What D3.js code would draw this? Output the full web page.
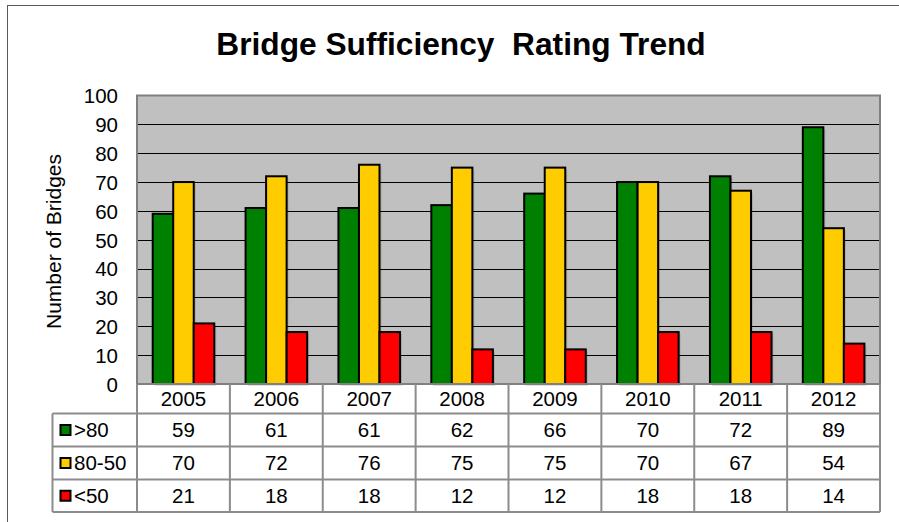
<!doctype html>
<html>
<head>
    <meta charset="utf-8">
    <title>Bridge Sufficiency Rating Trend</title>
    <script src="https://cdn.jsdelivr.net/npm/d3@7"></script>
    <style>
        body { margin: 0; background: #fff; }
        svg text { font-family: "Liberation Sans", Arial, sans-serif; fill: #000; }
    </style>
</head>
<body>
<svg id="chart" width="899" height="522"></svg>
<script>
    // data
    const years = ["2005", "2006", "2007", "2008", "2009", "2010", "2011", "2012"];
    const seriesNames = [">80", "80-50", "<50"];
    const seriesColors = ["#008000", "#FFCC00", "#FF0000"];
    const above80 = [59, 61, 61, 62, 66, 70, 72, 89];
    const mid80to50 = [70, 72, 76, 75, 75, 70, 67, 54];
    const below50 = [21, 18, 18, 12, 12, 18, 18, 14];
    const yTicks = [0, 10, 20, 30, 40, 50, 60, 70, 80, 90, 100];

    const seriesValues = [above80, mid80to50, below50];

    let svg = d3.select("#chart");

    // plot area
    const plotLeft = 137, plotRight = 880, plotTop = 95.5, plotBottom = 384;
    const rowEdges = [384, 413.5, 446.5, 479.5, 512];
    const legendLeft = 52.5;
    const fontSize = "20.5px";

    // outer chart border (right and bottom run off the picture)
    svg.append("rect")
        .attr("x", 7.5).attr("y", 5.5)
        .attr("width", 1000).attr("height", 1000)
        .attr("fill", "none")
        .attr("stroke", "#5a5a5a")
        .attr("stroke-width", 1);

    // title
    svg.append("text")
        .attr("x", 461).attr("y", 54.5)
        .attr("text-anchor", "middle")
        .style("font-size", "31.7px")
        .style("font-weight", "bold")
        .style("white-space", "pre")
        .text("Bridge Sufficiency  Rating Trend");

    let x0 = d3.scaleBand().domain(years).range([plotLeft, plotRight]).padding(0);
    let bw = x0.bandwidth();
    let x1 = d3.scaleBand().domain(d3.range(seriesNames.length))
        .range([bw * 0.169, bw * 0.832]).padding(0);
    let y = d3.scaleLinear().domain([0, 100]).range([plotBottom, plotTop]);

    svg.append("rect")
        .attr("x", plotLeft).attr("y", plotTop)
        .attr("width", plotRight - plotLeft).attr("height", plotBottom - plotTop)
        .attr("fill", "#C0C0C0");

    // gridlines
    svg.append("g")
        .selectAll("line")
        .data(yTicks.filter(d => d > 0 && d < 100))
        .enter()
        .append("line")
        .attr("x1", plotLeft).attr("x2", plotRight)
        .attr("y1", d => Math.round(y(d)) + 0.5)
        .attr("y2", d => Math.round(y(d)) + 0.5)
        .attr("stroke", "#000")
        .attr("stroke-width", 1);

    // bars
    let groups = svg.append("g")
        .selectAll("g")
        .data(years)
        .enter()
        .append("g")
        .attr("transform", d => "translate(" + x0(d) + ",0)");

    let barData = (d, i) => seriesValues.map((vals, s) => ({ s: s, v: vals[i] }));

    // faint drop shadow
    groups.selectAll("rect.shadow")
        .data(barData)
        .enter()
        .append("rect")
        .attr("class", "shadow")
        .attr("x", d => x1(d.s) + 2)
        .attr("y", d => y(d.v) + 2)
        .attr("width", x1.bandwidth())
        .attr("height", d => y(0) - y(d.v))
        .attr("fill", "rgba(0,0,0,0.12)");

    groups.selectAll("rect.bar")
        .data(barData)
        .enter()
        .append("rect")
        .attr("class", "bar")
        .attr("x", d => x1(d.s))
        .attr("y", d => y(d.v))
        .attr("width", x1.bandwidth())
        .attr("height", d => y(0) - y(d.v))
        .attr("fill", d => seriesColors[d.s])
        .attr("stroke", "#000")
        .attr("stroke-width", 2);

    // plot border
    svg.append("rect")
        .attr("x", plotLeft).attr("y", plotTop)
        .attr("width", plotRight - plotLeft).attr("height", plotBottom - plotTop)
        .attr("fill", "none")
        .attr("stroke", "#808080")
        .attr("stroke-width", 2);

    // y axis labels
    let yAxis = d3.axisLeft(y).tickValues(yTicks).tickSize(0).tickPadding(0);
    let ya = svg.append("g")
        .attr("transform", "translate(118,0)")
        .call(yAxis);
    ya.select(".domain").remove();
    ya.selectAll("text")
        .attr("dy", "0.36em")
        .style("font-size", fontSize)
        .style("font-family", "'Liberation Sans', Arial, sans-serif");

    svg.append("text")
        .attr("transform", "translate(61,241.5) rotate(-90)")
        .attr("text-anchor", "middle")
        .style("font-size", "21px")
        .text("Number of Bridges");

    // data table
    let table = svg.append("g");
    const gridColor = "#8c8c8c";

    // horizontal lines
    rowEdges.slice(1).forEach(ry => {
        table.append("line")
            .attr("x1", legendLeft).attr("x2", plotRight)
            .attr("y1", ry).attr("y2", ry)
            .attr("stroke", gridColor).attr("stroke-width", 2);
    });
    // vertical lines
    table.append("line")
        .attr("x1", legendLeft).attr("x2", legendLeft)
        .attr("y1", rowEdges[1]).attr("y2", rowEdges[4])
        .attr("stroke", gridColor).attr("stroke-width", 2);
    years.forEach(yr => {
        table.append("line")
            .attr("x1", x0(yr)).attr("x2", x0(yr))
            .attr("y1", rowEdges[0]).attr("y2", rowEdges[4])
            .attr("stroke", gridColor).attr("stroke-width", 2);
    });
    table.append("line")
        .attr("x1", plotRight).attr("x2", plotRight)
        .attr("y1", rowEdges[0]).attr("y2", rowEdges[4])
        .attr("stroke", gridColor).attr("stroke-width", 2);

    // header (years)
    table.selectAll("text.year")
        .data(years)
        .enter()
        .append("text")
        .attr("class", "year")
        .attr("x", d => x0(d) + bw / 2)
        .attr("y", (rowEdges[0] + rowEdges[1]) / 2)
        .attr("dy", "0.36em")
        .attr("text-anchor", "middle")
        .style("font-size", fontSize)
        .text(d => d);

    seriesNames.forEach((name, s) => {
        let cy = (rowEdges[s + 1] + rowEdges[s + 2]) / 2;
        table.append("rect")
            .attr("x", 60.5).attr("y", cy - 5)
            .attr("width", 10).attr("height", 10)
            .attr("fill", seriesColors[s])
            .attr("stroke", "#000")
            .attr("stroke-width", 2);
        table.append("text")
            .attr("x", 74).attr("y", cy)
            .attr("dy", "0.36em")
            .style("font-size", fontSize)
            .text(name);
        table.selectAll("text.v" + s)
            .data(seriesValues[s])
            .enter()
            .append("text")
            .attr("class", "v" + s)
            .attr("x", (d, i) => x0(years[i]) + bw / 2)
            .attr("y", cy)
            .attr("dy", "0.36em")
            .attr("text-anchor", "middle")
            .style("font-size", fontSize)
            .text(d => d);
    });
</script>
</body>
</html>
